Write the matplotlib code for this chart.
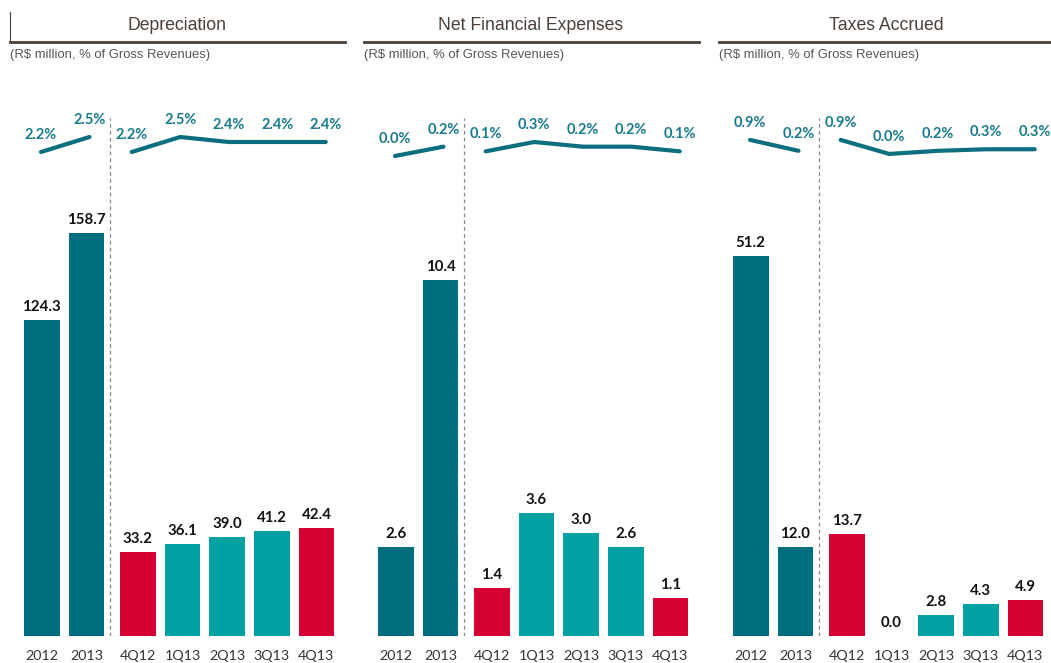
import numpy as np
import matplotlib.pyplot as plt
from matplotlib.lines import Line2D

W, H = 1051, 663

titles = ['Depreciation', 'Net Financial Expenses', 'Taxes Accrued']
subtitle = '(R$ million, % of Gross Revenues)'
years = ['2012', '2013']
quarters = ['4Q12', '1Q13', '2Q13', '3Q13', '4Q13']

dep_annual = [124.3, 158.7]
dep_quarter = [33.2, 36.1, 39.0, 41.2, 42.4]
dep_pct_annual = [2.2, 2.5]
dep_pct_quarter = [2.2, 2.5, 2.4, 2.4, 2.4]

fin_annual = [2.6, 10.4]
fin_quarter = [1.4, 3.6, 3.0, 2.6, 1.1]
fin_pct_annual = [0.0, 0.2]
fin_pct_quarter = [0.1, 0.3, 0.2, 0.2, 0.1]

tax_annual = [51.2, 12.0]
tax_quarter = [13.7, 0.0, 2.8, 4.3, 4.9]
tax_pct_annual = [0.9, 0.2]
tax_pct_quarter = [0.9, 0.0, 0.2, 0.3, 0.3]

panels = [
    (dep_annual, dep_quarter, dep_pct_annual, dep_pct_quarter),
    (fin_annual, fin_quarter, fin_pct_annual, fin_pct_quarter),
    (tax_annual, tax_quarter, tax_pct_annual, tax_pct_quarter),
]

# layout per panel (pixel offsets, axis limits)
offsets = [0, 354, 709]
bar_ylim = [211, 15.67, 72.2]
pct_ylim = [(1.84, 3.24), (-0.30, 1.20), (-1.03, 3.46)]

c_annual = '#006E7F'
c_quarter = '#00A0A2'
c_red = '#D50032'
c_line = '#0B6F80'
c_title = '#4B3F38'
num_font = 'Lato'

fig = plt.figure(figsize=(W / 100, H / 100), dpi=100)


def fx(x):
    return x / W


def fy(y):
    return 1 - y / H


for i, (ann, qtr, pann, pqtr) in enumerate(panels):
    off = offsets[i]

    # title, underline, subtitle
    fig.text(fx(off + 177), fy(25), titles[i], ha='center', va='center',
             fontsize=12.7, color=c_title, family='Liberation Sans')
    fig.add_artist(Line2D([fx(off + 10), fx(off + 345)], [fy(42), fy(42)],
                          color=c_title, lw=2))
    fig.text(fx(off + 10), fy(55), subtitle, ha='left', va='center',
             fontsize=9.4, color='#555555', family='Liberation Sans')

    # bars
    ax = fig.add_axes([fx(off + 15), fy(636), 330 / W, 536 / H])
    xa = np.arange(len(ann))
    xq = np.arange(len(qtr)) + 2.15
    qcolors = [c_red] + [c_quarter] * (len(qtr) - 2) + [c_red]
    ax.bar(xa, ann, width=0.8, color=c_annual)
    ax.bar(xq, qtr, width=0.8, color=qcolors)
    for x, v in zip(list(xa) + list(xq), ann + qtr):
        ax.annotate(f'{v:.1f}', (x, v), xytext=(0, 6), textcoords='offset pixels',
                    ha='center', va='bottom', fontsize=10.8, fontweight='bold',
                    color='#111111', family=num_font)
    ax.axvline(1.52, ymin=0, ymax=(636 - 118) / 536, color='#888888',
               lw=0.9, ls=(0, (3, 2.5)))
    ax.set_xlim(-0.6, 6.79)
    ax.set_ylim(0, bar_ylim[i])
    ax.set_xticks(list(xa) + list(xq))
    ax.set_xticklabels(years + quarters, fontsize=10.3, color='#333333',
                       family=num_font)
    ax.tick_params(axis='x', length=0, pad=10)
    ax.set_yticks([])
    for s in ax.spines.values():
        s.set_visible(False)
    ax.patch.set_alpha(0)

    # percentage lines
    lax = fig.add_axes([fx(off + 41 - 0.5 * 48.5), fy(170), 339.5 / W, 70 / H])
    la = np.arange(len(pann)).astype(float)
    lq = np.arange(len(pqtr)) + 1.87
    lax.plot(la, pann, color=c_line, lw=3, solid_capstyle='round')
    lax.plot(lq, pqtr, color=c_line, lw=3, solid_capstyle='round')
    for x, v in zip(list(la) + list(lq), pann + pqtr):
        lax.annotate(f'{v:.1f}%', (x, v), xytext=(0, 17), textcoords='offset pixels',
                     ha='center', va='center', fontsize=10.5, fontweight='bold',
                     color='#177A8C', family=num_font, annotation_clip=False)
    lax.set_xlim(-0.5, 6.5)
    lax.set_ylim(*pct_ylim[i])
    lax.axis('off')

# left edge mark on first title
fig.add_artist(Line2D([fx(10), fx(10)], [fy(12), fy(42)], color=c_title, lw=0.8))

fig.savefig('out.png', dpi=100)
